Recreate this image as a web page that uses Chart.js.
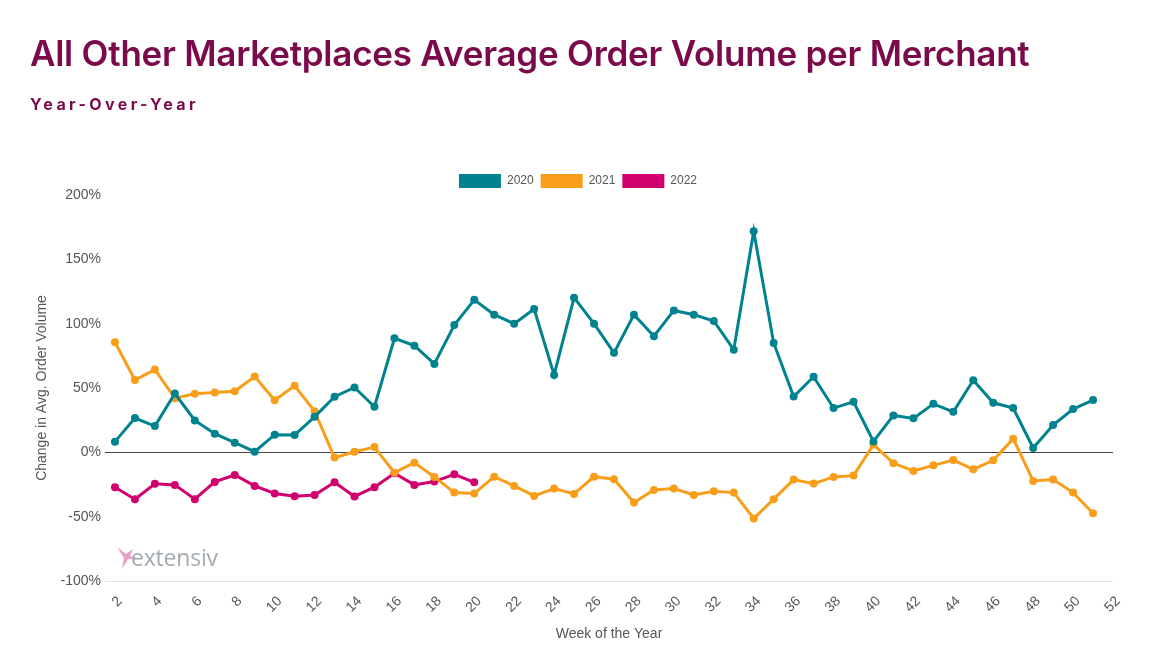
<!DOCTYPE html>
<html>
<head>
<meta charset="utf-8">
<script src="https://cdn.jsdelivr.net/npm/chart.js@4/dist/chart.umd.min.js"></script>
<style>
  html, body { margin: 0; padding: 0; background: #fff; }
  #wrap { position: relative; width: 1166px; height: 657px; overflow: hidden; }
  #title { position: absolute; left: 30px; top: 33px; font-family: Inter, "Noto Sans", sans-serif; font-weight: 600; font-size: 35px; line-height: 40px; color: #7a0a4a; white-space: nowrap; letter-spacing: -0.25px; }
  #subtitle { position: absolute; left: 30px; top: 94px; font-family: Inter, "Noto Sans", sans-serif; font-weight: 700; font-size: 16px; line-height: 20px; color: #7a0a4a; letter-spacing: 3.4px; white-space: nowrap; }
  #logo { position: absolute; left: 115px; top: 536px; height: 34px; display: flex; align-items: flex-end; pointer-events: none; }
  #logo span { font-family: "Open Sans", Lato, sans-serif; font-weight: 400; font-size: 23px; color: #a3aab0; line-height: 26px; margin-left: -10px; letter-spacing: -0.2px; }
  canvas { position: absolute; left: 0; top: 0; }
</style>
</head>
<body>
<div id="wrap">
  <canvas id="c" width="1166" height="657"></canvas>
  <div id="title">All Other Marketplaces Average Order Volume per Merchant</div>
  <div id="subtitle">Year-Over-Year</div>
  <div id="logo">
    <svg width="26" height="24" viewBox="0 0 26 24"><path d="M2 1 L11 8 L18 3 L15 10 L23 12 L13 13 L7 23 L9 12 Z" fill="#e593c0" opacity="0.9"/></svg>
    <span>extensiv</span>
  </div>
</div>
<script>
const WEEKS = [2,3,4,5,6,7,8,9,10,11,12,13,14,15,16,17,18,19,20,21,22,23,24,25,26,27,28,29,30,31,32,33,34,35,36,37,38,39,40,41,42,43,44,45,46,47,48,49,50,51];
const WEEKS_2022 = [2,3,4,5,6,7,8,9,10,11,12,13,14,15,16,17,18,19,20];
const SERIES_2020 = [8.3,26.6,20.4,45.7,24.8,14.5,7.5,0.5,13.7,13.4,27.6,43.2,50.4,35.4,88.6,82.9,68.7,99,118.6,107,100,111.4,60.2,120.2,100,77.3,107,90.2,110.3,107,102.1,79.8,171.9,85,43.3,58.7,34.4,39.3,8.5,28.7,26.4,37.7,31.5,56,38.5,34.4,3.4,21.2,33.6,40.6];
const SERIES_2021 = [85.5,56.3,64.3,42.1,45.5,46.5,47.5,58.9,40.5,51.7,32,-4.1,0.5,4.1,-15.8,-8,-19.1,-31.3,-32,-18.9,-26.1,-33.9,-28.1,-32.3,-18.9,-20.9,-39,-29.2,-28.1,-33.1,-30.2,-31.3,-51.4,-36.4,-21.2,-24.3,-19.1,-18.1,6,-8.5,-14.5,-10.1,-6,-13.2,-6.2,10.6,-22.2,-21.2,-31.3,-47.3];
const SERIES_2022 = [-27.1,-36.4,-24.5,-25.3,-36.4,-23,-17.6,-26.1,-32,-34.1,-33.1,-23.3,-34.3,-27.1,-16.3,-25.3,-22.7,-17.1,-23.3];
const SERIES_LABELS = ['2020','2021','2022'];
const X_TICKS = [2,4,6,8,10,12,14,16,18,20,22,24,26,28,30,32,34,36,38,40,42,44,46,48,50,52];
const Y_TICKS = [-100,-50,0,50,100,150,200];

const COLORS = ['#00838f', '#f89e1b', '#d1006e'];
const pts = (xs, ys) => xs.map((x, i) => ({x: x, y: ys[i]}));

const mk = (label, data, color) => ({
  label, data,
  borderColor: color, backgroundColor: color,
  borderWidth: 3, pointRadius: 4, pointHoverRadius: 5,
  pointBorderWidth: 0, tension: 0
});

const FONT = 'Liberation Sans, Arial, sans-serif';

const legendTrim = {
  id: 'legendTrim',
  beforeLayout(chart) {
    const lg = chart.legend;
    if (lg && !lg._trimmed) {
      const f = lg.fit.bind(lg);
      lg.fit = function () { f(); this.height -= 3; };
      lg._trimmed = true;
    }
  }
};

new Chart(document.getElementById('c'), {
  type: 'line',
  data: {
    datasets: [
      mk(SERIES_LABELS[0], pts(WEEKS, SERIES_2020), COLORS[0]),
      mk(SERIES_LABELS[1], pts(WEEKS, SERIES_2021), COLORS[1]),
      mk(SERIES_LABELS[2], pts(WEEKS_2022, SERIES_2022), COLORS[2])
    ]
  },
  plugins: [legendTrim],
  options: {
    responsive: false,
    animation: false,
    layout: { padding: { left: 43, right: 53, top: 167, bottom: 14 } },
    plugins: {
      legend: {
        position: 'top',
        labels: {
          boxWidth: 42, boxHeight: 14, padding: 7,
          color: '#555', font: { family: FONT, size: 12 },
          generateLabels: chart => Chart.defaults.plugins.legend.labels.generateLabels(chart).map(l => Object.assign(l, { lineWidth: 0, strokeStyle: 'rgba(0,0,0,0)' }))
        }
      },
      tooltip: { enabled: false }
    },
    scales: {
      x: {
        type: 'linear', min: 1.5, max: 52,
        afterBuildTicks: s => { s.ticks = X_TICKS.map(v => ({value: v})); },
        afterFit: s => { s.height = 62; },
        grid: { display: false },
        border: { display: false },
        ticks: {
          minRotation: 45, maxRotation: 45, autoSkip: false,
          color: '#555', font: { family: FONT, size: 14 }, padding: 4, labelOffset: 5
        },
        title: { display: true, text: 'Week of the Year', color: '#555', font: { family: FONT, size: 14 }, padding: { top: 0, bottom: 0 } }
      },
      y: {
        min: -100, max: 200,
        afterBuildTicks: s => { s.ticks = Y_TICKS.map(v => ({value: v})); },
        afterFit: s => { s.width = 62; },
        border: { display: false },
        grid: {
          drawTicks: false,
          color: c => c.tick && c.tick.value === 0 ? '#444' : (c.tick && c.tick.value === -100 ? '#e2e2e2' : 'rgba(0,0,0,0)'),
          lineWidth: 1
        },
        ticks: {
          color: '#555', font: { family: FONT, size: 14 }, padding: 4,
          callback: v => v + '%'
        },
        title: { display: true, text: 'Change in Avg. Order Volume', color: '#555', font: { family: FONT, size: 14 }, padding: { top: -9, bottom: 0 } }
      }
    }
  }
});
</script>
</body>
</html>
